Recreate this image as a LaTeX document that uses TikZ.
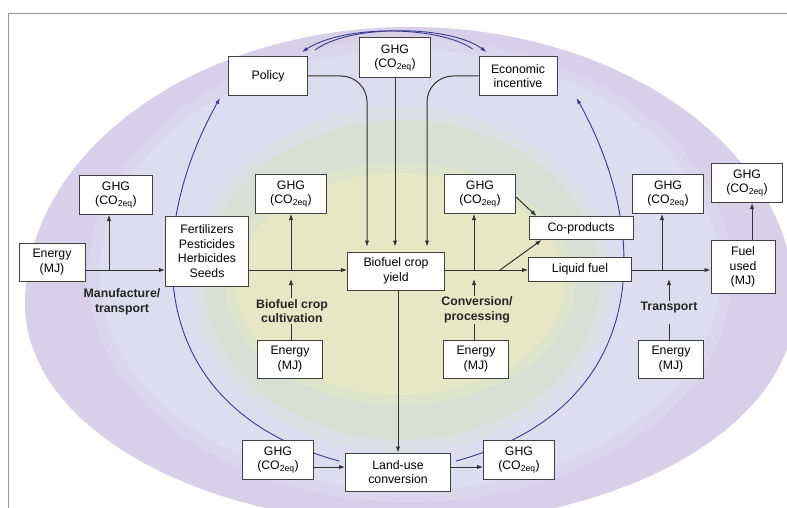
\documentclass[tikz,border=0pt]{standalone}
\usepackage{fontspec}
\setmainfont{Liberation Sans}
\usetikzlibrary{arrows.meta}

\definecolor{ringout}{RGB}{215,208,232}
\definecolor{ringmid}{RGB}{218,214,236}
\definecolor{ringlav}{RGB}{221,221,239}
\definecolor{ringsoft}{RGB}{219,222,226}
\definecolor{ringgreen}{RGB}{216,222,212}
\definecolor{ringpale}{RGB}{222,227,204}
\definecolor{ringyel}{RGB}{229,231,197}
\definecolor{loopblue}{RGB}{58,58,140}

\pgfdeclarelayer{back}
\pgfdeclarelayer{loop}
\pgfsetlayers{back,loop,main}

\newcommand\boxfont{\fontsize{12.3}{14.5}\selectfont}
% egg shaped ring: colour, cx, cy, rx, top ry, bottom ry
\newcommand\eggfill[6]{%
  \begin{scope}\clip (0,0) rectangle (787,#3+1); \fill[#1] (#2,#3) ellipse [x radius=#4, y radius=#5]; \end{scope}
  \begin{scope}\clip (0,#3-1) rectangle (787,560); \fill[#1] (#2,#3) ellipse [x radius=#4, y radius=#6]; \end{scope}}

\tikzset{
  box/.style={draw=black!75, fill=white, line width=1pt, align=center, inner sep=0pt, font=\boxfont},
  ghgbox/.style={box, minimum width=71pt, minimum height=39pt},
  mjbox/.style={box, minimum width=65pt, minimum height=38pt},
  tag/.style={font=\boxfont\bfseries, align=center, inner sep=1pt, text=black!85},
  flow/.style={draw=black!80, line width=1pt, -{Latex[length=6pt,width=4.5pt]}},
  link/.style={draw=black!80, line width=1pt},
  loopline/.style={draw=loopblue, line width=0.9pt, -{Latex[length=6pt,width=4pt]}}
}

\begin{document}
\begin{tikzpicture}[x=1pt, y=-1pt]
  \useasboundingbox (0,0) rectangle (787,508);
  % rings
  \begin{pgfonlayer}{back}
    \fill[white] (0,0) rectangle (787,508);
    \clip (0,0) rectangle (787,508);
    \eggfill{ringout}{410}{304}{385}{277}{220}
    \eggfill{ringmid}{410}{276}{322}{237}{226}
    \eggfill{ringlav}{410}{275}{310}{225}{215}
    \fill[ringsoft] (402,280) ellipse [x radius=210, y radius=172];
    \fill[ringgreen] (402,280) ellipse [x radius=198, y radius=160];
    \fill[ringpale] (400,284) ellipse [x radius=175, y radius=121];
    \fill[ringyel] (400,284) ellipse [x radius=165, y radius=111];
    \draw[black!40, line width=0.8pt] (8,508) -- (8,13) -- (787,13);
  \end{pgfonlayer}

  % boxes
  \node[mjbox, minimum width=66pt] (en1) at (52,262) {Energy\\(MJ)};
  \node[ghgbox, minimum width=73pt] (ghg1) at (116,195) {GHG\\(CO\textsubscript{2eq})};
  \node[box, minimum width=83pt, minimum height=70pt] (fert) at (207,251) {Fertilizers\\Pesticides\\Herbicides\\Seeds};
  \node[ghgbox] (ghg2) at (291,194) {GHG\\(CO\textsubscript{2eq})};
  \node[mjbox] (en2) at (290,359) {Energy\\(MJ)};
  \node[box, minimum width=97pt, minimum height=38pt] (yield) at (396,271) {Biofuel crop\\yield};
  \node[box, minimum width=79pt, minimum height=39pt] (policy) at (268,76) {Policy};
  \node[ghgbox, minimum height=40pt] (ghgtop) at (395,58) {GHG\\(CO\textsubscript{2eq})};
  \node[box, minimum width=78pt, minimum height=39pt] (econ) at (518,76) {Economic\\incentive};
  \node[ghgbox] (ghg3) at (480,194) {GHG\\(CO\textsubscript{2eq})};
  \node[box, minimum width=104pt, minimum height=23pt] (coprod) at (581,228) {Co-products};
  \node[box, minimum width=103pt, minimum height=24pt] (fuel) at (580,269) {Liquid fuel};
  \node[mjbox] (en3) at (476,359) {Energy\\(MJ)};
  \node[ghgbox] (ghg4) at (668,194) {GHG\\(CO\textsubscript{2eq})};
  \node[box, minimum width=64pt, minimum height=53pt] (used) at (743,267) {Fuel\\used\\(MJ)};
  \node[ghgbox] (ghg5) at (747,183) {GHG\\(CO\textsubscript{2eq})};
  \node[mjbox] (en4) at (671,359) {Energy\\(MJ)};
  \node[box, minimum width=105pt, minimum height=38pt] (landuse) at (398,472) {Land-use\\conversion};
  \node[ghgbox] (ghg6) at (278,460) {GHG\\(CO\textsubscript{2eq})};
  \node[ghgbox] (ghg7) at (519,460) {GHG\\(CO\textsubscript{2eq})};

  % stage labels
  \node[tag] (manuf) at (122,302) {Manufacture/\\transport};
  \node[tag] (cultiv) at (292,311) {Biofuel crop\\cultivation};
  \node[tag] (convert) at (477,310) {Conversion/\\processing};
  \node[tag] (transp) at (669,308) {Transport};

  % branch points on the main line
  \coordinate (b1) at (109,270);
  \coordinate (b2) at (291,270);
  \coordinate (b3) at (474,270);
  \coordinate (b4) at (500,270);
  \coordinate (b5) at (662,270);

  % main line
  \draw[flow] (en1.east |- b1) -- (fert.west |- b1);
  \draw[flow] (fert.east |- b1) -- (yield.west |- b1);
  \draw[flow] (yield.east |- b1) -- (fuel.west |- b1);
  \draw[flow] (fuel.east |- b1) -- (used.west |- b1);

  % emissions
  \draw[flow] (b1) -- (b1 |- ghg1.south);
  \draw[flow] (b2) -- (b2 |- ghg2.south);
  \draw[flow] (b3) -- (b3 |- ghg3.south);
  \draw[flow] (b4) -- ([xshift=13pt]coprod.south west);
  \draw[flow] ([yshift=-3pt]ghg3.east) -- ([xshift=8pt]coprod.north west);
  \draw[flow] (b5) -- (b5 |- ghg4.south);
  \draw[flow] ([xshift=9pt]used.north) -- ([xshift=9pt]used.north |- ghg5.south);

  % energy inputs
  \draw[link] (b2 |- en2.north) -- (b2 |- cultiv.south);
  \draw[flow, shorten >=9pt] (b2 |- cultiv.north) -- (b2);
  \draw[link] (b3 |- en3.north) -- (b3 |- convert.south);
  \draw[flow, shorten >=9pt] (b3 |- convert.north) -- (b3);
  \draw[link, shorten >=9pt] (transp.south |- en4.north) -- (transp.south);
  \draw[flow, shorten >=9pt] (transp.north) -- (transp.north |- b5);

  % drivers of the crop yield
  \draw[flow, rounded corners=26pt, shorten >=5pt] (policy.east) -| ([xshift=-29pt]yield.north);
  \draw[flow, shorten >=5pt] (ghgtop.south) -- (ghgtop.south |- yield.north);
  \draw[flow, rounded corners=26pt, shorten >=5pt] (econ.west) -| ([xshift=31pt]yield.north);

  % land use
  \draw[flow] (landuse.north |- yield.south) -- (landuse.north);
  \draw[flow] ([yshift=-7pt]ghg6.east) -- ([yshift=-7pt]ghg6.east -| landuse.west);
  \draw[flow] ([yshift=5pt]landuse.east) -- ([yshift=5pt]landuse.east -| ghg7.west);

  % feedback loop
  \begin{pgfonlayer}{loop}
    \draw[loopline] ([xshift=-6pt,yshift=11pt]landuse.west) .. controls (147,409) and (142,237) .. ([xshift=-8pt,yshift=-2pt]policy.south west);
    \draw[loopline] ([xshift=5pt,yshift=11pt]landuse.east) .. controls (649,409) and (654,237) .. ([xshift=19pt,yshift=-2pt]econ.south east);
    \draw[loopline] ([xshift=7pt,yshift=6pt]policy.north east) .. controls (350,24) and (450,25) .. ([xshift=8pt,yshift=4pt]econ.north west);
    \draw[loopline] ([xshift=-6pt,yshift=7pt]econ.north west) .. controls (440,26) and (345,24) .. ([xshift=-6pt,yshift=4pt]policy.north east);
  \end{pgfonlayer}
\end{tikzpicture}
\end{document}
